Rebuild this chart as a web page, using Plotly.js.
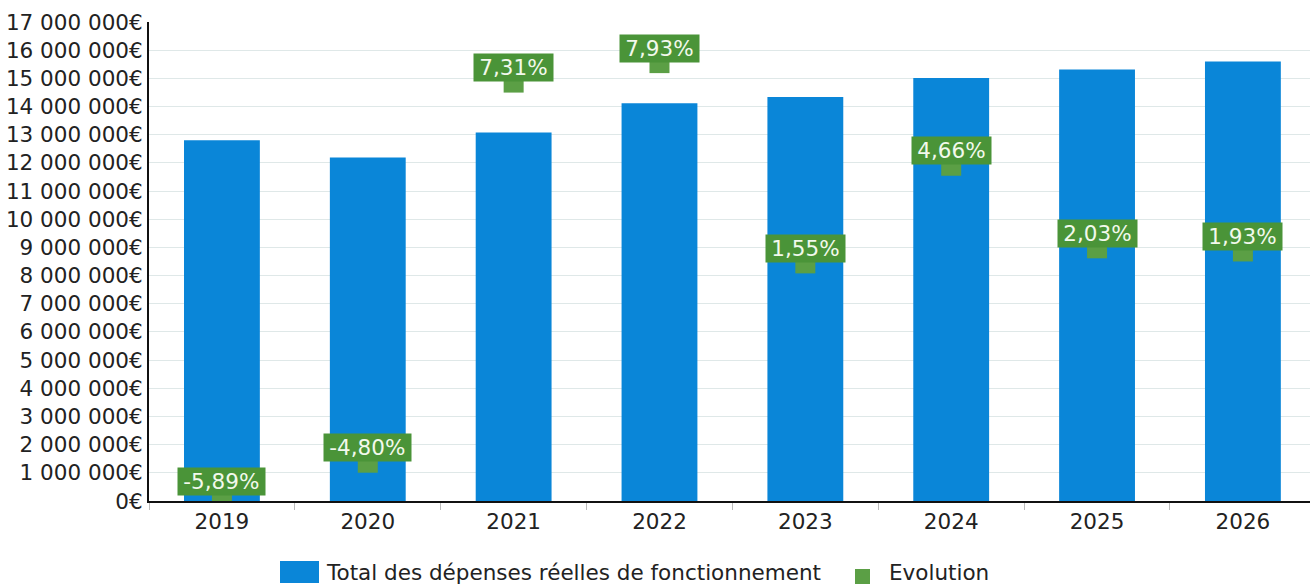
<!DOCTYPE html>
<html>
<head>
<meta charset="utf-8">
<script src="https://cdn.plot.ly/plotly-3.0.1.min.js"></script>
<style>html,body{margin:0;padding:0;background:#fff;}#chart{width:1310px;height:587px;}</style>
</head>
<body>
<div id="chart"></div>
<script>
var years = ["2019", "2020", "2021", "2022", "2023", "2024", "2025", "2026"];
var depenses = [12800000, 12190000, 13080000, 14120000, 14340000, 15010000, 15310000, 15600000];
var evolution = [-5.89, -4.80, 7.31, 7.93, 1.55, 4.66, 2.03, 1.93];
var evolutionLabels = ["-5,89%", "-4,80%", "7,31%", "7,93%", "1,55%", "4,66%", "2,03%", "1,93%"];
var yTickVals = [0, 1000000, 2000000, 3000000, 4000000, 5000000, 6000000, 7000000, 8000000, 9000000, 10000000, 11000000, 12000000, 13000000, 14000000, 15000000, 16000000, 17000000];
var yTickText = ["0€", "1 000 000€", "2 000 000€", "3 000 000€", "4 000 000€", "5 000 000€", "6 000 000€", "7 000 000€", "8 000 000€", "9 000 000€", "10 000 000€", "11 000 000€", "12 000 000€", "13 000 000€", "14 000 000€", "15 000 000€", "16 000 000€", "17 000 000€"];
var seriesNames = ["Total des dépenses réelles de fonctionnement", "Evolution"];

var FONT = "DejaVu Sans, sans-serif";
var FS = 21.5;
var BLUE = "#0a86d8";
var GREEN_BOX = "#4a9438";
var GREEN_MARK = "#5b9f45";
var TXT = "#222222";

var traces = [
  {
    type: "bar",
    name: seriesNames[0],
    x: years,
    y: depenses,
    marker: {color: BLUE},
    width: 0.52,
    hoverinfo: "y",
    showlegend: false
  },
  {
    type: "scatter",
    mode: "markers",
    name: seriesNames[1],
    x: years,
    y: evolution,
    yaxis: "y2",
    marker: {symbol: "square", size: 20, color: GREEN_MARK},
    hoverinfo: "y",
    showlegend: false
  }
];

/* category axis: annotation x given as category index */
var annotations = years.map(function (yr, i) {
  return {
    x: i,
    y: evolution[i],
    xref: "x",
    yref: "y2",
    text: "\u2009" + evolutionLabels[i] + "\u2009",
    showarrow: false,
    yshift: 15,
    bgcolor: GREEN_BOX,
    borderpad: 1,
    font: {family: FONT, size: FS, color: "#f2f9ec"}
  };
});

/* custom legend (positions in pixels converted to paper coords) */
var L = 149, T = 22, W = 1310 - 149, H = 587 - 22 - 86;
function px(x) { return (x - L) / W; }
function py(y) { return (T + H - y) / H; }

annotations.push({
  xref: "paper", yref: "paper", x: px(324), y: py(572), xanchor: "left", yanchor: "middle",
  text: seriesNames[0], showarrow: false, font: {family: FONT, size: FS, color: TXT}
});
annotations.push({
  xref: "paper", yref: "paper", x: px(887), y: py(572), xanchor: "left", yanchor: "middle",
  text: seriesNames[1], showarrow: false, font: {family: FONT, size: FS, color: TXT}
});

var shapes = [
  {type: "rect", xref: "paper", yref: "paper", x0: px(280), x1: px(319), y0: py(583), y1: py(561),
   fillcolor: BLUE, line: {width: 0}},
  {type: "rect", xref: "paper", yref: "paper", x0: px(855), x1: px(870), y0: py(584), y1: py(569),
   fillcolor: GREEN_MARK, line: {width: 0}}
];

var layout = {
  width: 1310,
  height: 587,
  margin: {l: 149, r: 0, t: 22, b: 86},
  paper_bgcolor: "#ffffff",
  plot_bgcolor: "#ffffff",
  font: {family: FONT, size: FS, color: TXT},
  showlegend: false,
  xaxis: {
    type: "category",
    range: [-0.5, 7.46],
    showline: true,
    linecolor: "#111111",
    linewidth: 2,
    ticks: "outside",
    tickson: "boundaries",
    ticklen: 7,
    tickcolor: "#bbbbbb",
    showgrid: false,
    tickfont: {family: FONT, size: FS, color: TXT},
    fixedrange: true
  },
  yaxis: {
    range: [0, 17000000],
    tickvals: yTickVals,
    ticktext: yTickText,
    showline: true,
    linecolor: "#111111",
    linewidth: 2,
    showgrid: true,
    gridcolor: "#dfe8e8",
    gridwidth: 1,
    zeroline: false,
    ticks: "",
    tickfont: {family: FONT, size: FS, color: TXT},
    fixedrange: true
  },
  yaxis2: {
    overlaying: "y",
    side: "right",
    range: [-6.02, 9.24],
    showticklabels: false,
    showline: false,
    ticks: "",
    showgrid: false,
    zeroline: false,
    fixedrange: true
  },
  shapes: shapes,
  annotations: annotations
};

Plotly.newPlot("chart", traces, layout, {displayModeBar: false, staticPlot: true});
</script>
</body>
</html>
